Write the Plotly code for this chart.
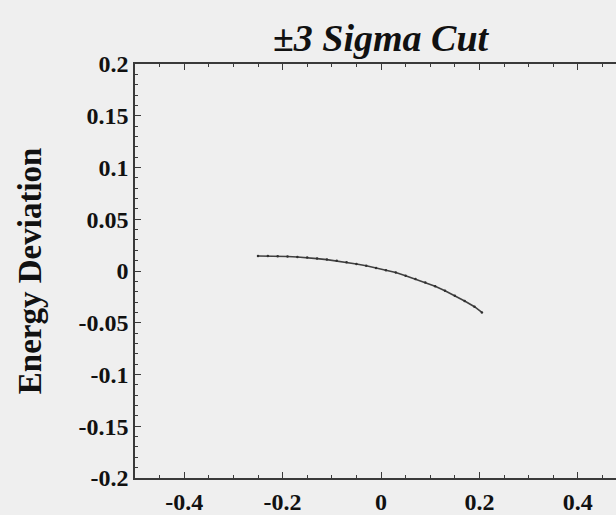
import plotly.graph_objects as go

# Data (particle distribution after +-3 sigma cut)
phase = [-0.25, -0.23, -0.21, -0.19, -0.17, -0.15, -0.13, -0.11, -0.09, -0.07,
         -0.05, -0.03, -0.01, 0.01, 0.03, 0.05, 0.07, 0.09, 0.11, 0.13,
         0.15, 0.17, 0.19, 0.205]
energy_dev = [0.0145, 0.0145, 0.0143, 0.0140, 0.0135, 0.0130, 0.0120, 0.0110, 0.0098, 0.0085,
              0.0068, 0.0050, 0.0030, 0.0008, -0.0015, -0.0045, -0.0078, -0.0110, -0.0148, -0.0190,
              -0.0238, -0.0290, -0.0345, -0.0400]

x_tickvals = [-0.4, -0.2, 0, 0.2, 0.4]
x_ticktext = ["-0.4", "-0.2", "0", "0.2", "0.4"]
y_tickvals = [0.2, 0.15, 0.1, 0.05, 0, -0.05, -0.1, -0.15, -0.2]
y_ticktext = ["0.2", "0.15", "0.1", "0.05", "0", "-0.05", "-0.1", "-0.15", "-0.2"]

title_text = "<b><i>\u00b13 Sigma Cut</i></b>"
ylabel_text = "<b>Energy Deviation</b>"

SERIF = "Liberation Serif, Times New Roman, serif"
BG = "#efefef"
AX = "#3a3a3a"

fig = go.Figure()
fig.add_trace(go.Scatter(
    x=phase, y=energy_dev, mode="lines+markers",
    line=dict(color="#404040", width=1.6),
    marker=dict(color="#303030", size=2.5),
    showlegend=False, hoverinfo="skip",
))

axis_common = dict(
    showgrid=False, zeroline=False, showline=True, linecolor=AX, linewidth=1.5,
    ticks="inside", tickcolor=AX, ticklen=6, tickwidth=1,
    tickfont=dict(family=SERIF, size=24, color="#111", weight="bold"),
)

fig.update_layout(
    width=616, height=515,
    margin=dict(l=135, r=0, t=64, b=33),
    paper_bgcolor=BG, plot_bgcolor=BG,
    xaxis=dict(range=[-0.5, 0.4776], tickvals=x_tickvals, ticktext=x_ticktext,
               mirror="ticks", ticklabelstandoff=1,
               minor=dict(dtick=0.05, tick0=0, ticks="inside", ticklen=3, tickcolor=AX),
               **axis_common),
    yaxis=dict(range=[-0.2, 0.2], tickvals=y_tickvals, ticktext=y_ticktext,
               mirror=False,
               minor=dict(dtick=0.01, tick0=0, ticks="inside", ticklen=3, tickcolor=AX),
               **axis_common),
    annotations=[
        dict(text=title_text, xref="paper", yref="paper", x=0.5135, y=1.062,
             xanchor="center", yanchor="middle", showarrow=False,
             font=dict(family=SERIF, size=38, color="#111")),
        dict(text=ylabel_text, xref="paper", yref="paper", x=-0.218, y=0.5,
             xanchor="center", yanchor="middle", textangle=-90, showarrow=False,
             font=dict(family=SERIF, size=33, color="#111")),
    ],
)

fig.write_html("out.html")
